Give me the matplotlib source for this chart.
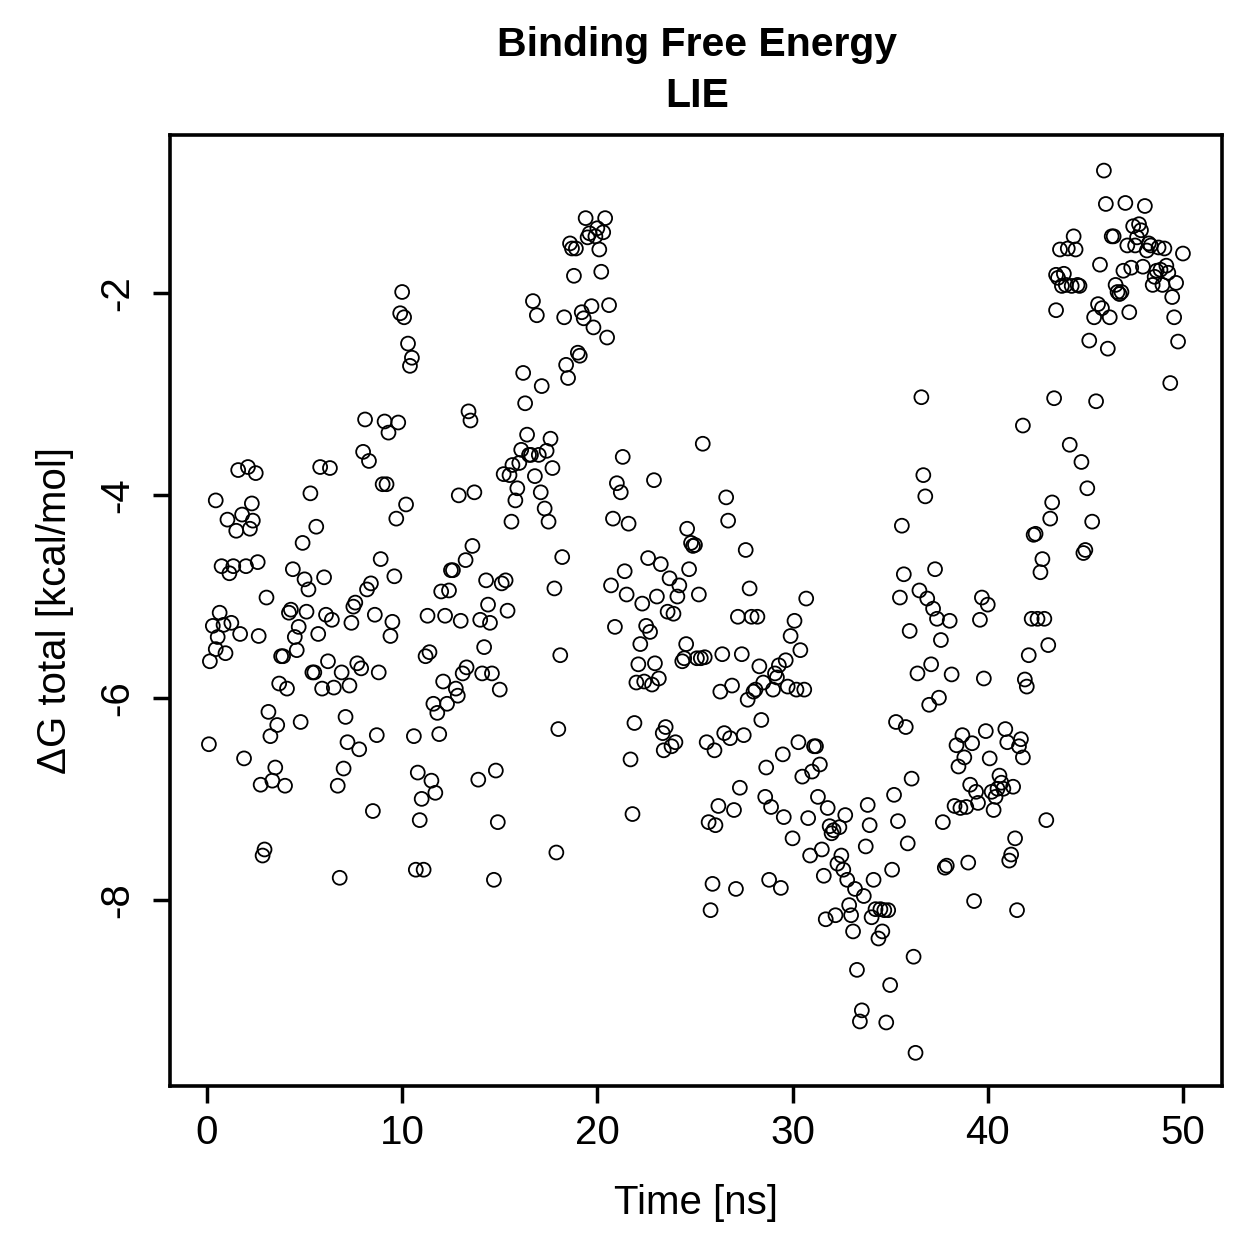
import matplotlib
matplotlib.use("Agg")
import matplotlib.pyplot as plt

time_ns = [0.1, 0.15, 0.3, 0.45, 0.45, 0.55, 0.65, 0.75, 0.85, 0.95, 1.05, 1.15, 1.25, 1.35, 1.5, 1.6, 1.7, 1.8, 1.9, 2.0,
           2.1, 2.2, 2.3, 2.35, 2.5, 2.6, 2.65, 2.75, 2.85, 2.95, 3.05, 3.15, 3.25, 3.35, 3.5, 3.6, 3.7, 3.8, 3.9, 4.0,
           4.1, 4.2, 4.3, 4.4, 4.5, 4.6, 4.7, 4.8, 4.9, 5.0, 5.1, 5.2, 5.3, 5.4, 5.5, 5.6, 5.7, 5.8, 5.9, 6.0,
           6.1, 6.2, 6.3, 6.4, 6.5, 6.7, 6.8, 6.9, 7.0, 7.1, 7.2, 7.3, 7.4, 7.5, 7.6, 7.7, 7.8, 7.9, 8.0, 8.1,
           8.2, 8.3, 8.4, 8.5, 8.6, 8.7, 8.8, 8.9, 9.0, 9.1, 9.2, 9.3, 9.4, 9.5, 9.6, 9.7, 9.8, 9.9, 10.0, 10.1,
           10.2, 10.3, 10.4, 10.5, 10.6, 10.7, 10.8, 10.9, 11.0, 11.1, 11.2, 11.3, 11.4, 11.5, 11.6, 11.7, 11.8, 11.9, 12.0, 12.1,
           12.2, 12.3, 12.4, 12.5, 12.6, 12.75, 12.85, 12.9, 13.0, 13.1, 13.25, 13.3, 13.4, 13.5, 13.6, 13.7, 13.9, 14.0, 14.1, 14.2,
           14.3, 14.4, 14.5, 14.6, 14.7, 14.8, 14.9, 15.0, 15.1, 15.3, 15.4, 15.2, 15.5, 15.6, 15.65, 15.8, 15.9, 16.0, 16.1, 16.2,
           16.3, 16.4, 16.5, 16.6, 16.7, 16.8, 16.9, 17.0, 17.1, 17.15, 17.3, 17.4, 17.5, 17.6, 17.7, 17.8, 17.9, 18.0, 18.1, 18.2,
           18.3, 18.4, 18.5, 18.6, 18.7, 18.8, 18.9, 19.0, 19.1, 19.2, 19.3, 19.4, 19.5, 19.6, 19.7, 19.8, 19.9, 20.0, 20.1, 20.2,
           20.3, 20.4, 20.5, 20.6, 20.7, 20.8, 20.9, 21.0, 21.2, 21.3, 21.4, 21.5, 21.6, 21.7, 21.8, 21.9, 22.0, 22.1, 22.2, 22.3,
           22.4, 22.5, 22.6, 22.7, 22.8, 22.9, 22.95, 23.05, 23.15, 23.25, 23.35, 23.4, 23.5, 23.6, 23.7, 23.8, 23.9, 24.0, 24.1, 24.2,
           24.35, 24.45, 24.55, 24.6, 24.7, 24.8, 24.9, 25.0, 25.1, 25.2, 25.3, 25.4, 25.5, 25.6, 25.7, 25.8, 25.9, 26.0, 26.05, 26.2,
           26.3, 26.4, 26.5, 26.6, 26.7, 26.8, 26.9, 27.0, 27.1, 27.2, 27.3, 27.4, 27.5, 27.6, 27.7, 27.8, 27.9, 28.0, 28.1, 28.2,
           28.3, 28.4, 28.5, 28.6, 28.65, 28.8, 28.9, 29.0, 29.1, 29.2, 29.3, 29.4, 29.5, 29.55, 29.65, 29.75, 29.9, 30.0, 30.1, 30.2,
           30.3, 30.4, 30.5, 30.6, 30.7, 30.8, 30.9, 31.0, 31.1, 31.2, 31.3, 31.4, 31.5, 31.6, 31.7, 31.8, 31.9, 32.0, 32.1, 32.2,
           32.3, 32.4, 32.5, 32.6, 32.7, 32.8, 32.9, 33.0, 33.1, 33.2, 33.3, 33.45, 33.55, 33.65, 33.75, 33.85, 33.95, 34.05, 34.15, 34.25,
           34.4, 34.5, 34.6, 34.7, 34.8, 34.9, 35.0, 35.1, 35.2, 35.3, 35.4, 35.5, 35.6, 35.7, 35.8, 35.9, 36.0, 36.1, 36.2, 36.3,
           36.4, 36.5, 36.6, 36.7, 36.8, 36.9, 37.0, 37.1, 37.2, 37.3, 37.4, 37.5, 37.6, 37.7, 37.8, 37.9, 38.05, 38.15, 38.3, 38.4,
           38.5, 38.6, 38.7, 38.8, 38.9, 39.0, 39.1, 39.2, 39.3, 39.4, 39.5, 39.6, 39.7, 39.8, 39.9, 40.0, 40.1, 40.2, 40.3, 40.4,
           40.5, 40.6, 40.7, 40.8, 40.9, 41.0, 41.1, 41.2, 41.3, 41.4, 41.5, 41.6, 41.7, 41.8, 41.8, 41.9, 42.0, 42.1, 42.25, 42.35,
           42.45, 42.55, 42.7, 42.8, 42.9, 43.0, 43.1, 43.2, 43.3, 43.4, 43.5, 43.5, 43.6, 43.7, 43.8, 43.9, 44.0, 44.1, 44.2, 44.3,
           44.4, 44.5, 44.6, 44.7, 44.8, 44.9, 45.0, 45.1, 45.2, 45.35, 45.45, 45.55, 45.65, 45.75, 45.85, 45.95, 46.05, 46.15, 46.25, 46.35,
           46.45, 46.55, 46.65, 46.75, 46.85, 46.95, 47.05, 47.15, 47.25, 47.35, 47.45, 47.55, 47.65, 47.75, 47.85, 47.95, 48.05, 48.15, 48.25, 48.35,
           48.45, 48.55, 48.65, 48.75, 48.85, 48.95, 49.05, 49.15, 49.25, 49.35, 49.45, 49.55, 49.65, 49.75, 50.0]

dg_total = [-6.46, -5.64, -5.29, -4.05, -5.52, -5.40, -5.16, -4.70, -5.28, -5.56, -4.24, -4.77, -5.26, -4.70, -4.35, -3.75, -5.37, -4.19, -6.60, -4.70,
            -3.72, -4.33, -4.08, -4.25, -3.78, -4.66, -5.39, -6.86, -7.56, -7.50, -5.01, -6.14, -6.38, -6.82, -6.69, -6.27, -5.86, -5.59, -5.59, -6.87,
            -5.91, -5.16, -5.13, -4.73, -5.40, -5.53, -5.30, -6.24, -4.47, -4.83, -5.15, -4.93, -3.98, -5.75, -5.75, -4.31, -5.37, -3.72, -5.91, -4.81,
            -5.18, -5.64, -3.73, -5.23, -5.90, -6.87, -7.78, -5.75, -6.70, -6.19, -6.44, -5.88, -5.26, -5.10, -5.06, -5.66, -6.51, -5.71, -3.57, -3.25,
            -4.93, -3.66, -4.87, -7.12, -5.18, -6.37, -5.75, -4.63, -3.89, -3.27, -3.89, -3.38, -5.39, -5.25, -4.80, -4.23, -3.28, -2.20, -1.99, -2.24,
            -4.09, -2.50, -2.72, -2.64, -6.38, -7.70, -6.74, -7.21, -7.00, -7.70, -5.59, -5.19, -5.55, -6.82, -6.06, -6.94, -6.15, -6.36, -4.95, -5.84,
            -5.19, -6.06, -4.94, -4.74, -4.74, -5.91, -5.98, -4.00, -5.24, -5.76, -4.64, -5.70, -3.17, -3.26, -4.50, -3.97, -6.81, -5.23, -5.76, -5.50,
            -4.84, -5.08, -5.26, -5.76, -7.80, -6.72, -7.23, -5.92, -4.87, -4.84, -5.14, -3.79, -3.80, -4.26, -3.70, -4.05, -3.93, -3.68, -3.55, -2.79,
            -3.09, -3.40, -3.60, -3.60, -2.08, -3.81, -2.22, -3.60, -3.97, -2.92, -4.13, -3.56, -4.26, -3.44, -3.73, -4.92, -7.53, -6.31, -5.58, -4.61,
            -2.24, -2.71, -2.84, -1.51, -1.56, -1.83, -1.56, -2.59, -2.62, -2.19, -2.25, -1.26, -1.45, -1.41, -2.13, -2.34, -1.44, -1.36, -1.57, -1.79,
            -1.40, -1.26, -2.44, -2.12, -4.89, -4.23, -5.30, -3.88, -3.97, -3.62, -4.75, -4.98, -4.28, -6.61, -7.15, -6.25, -5.85, -5.67, -5.47, -5.07,
            -5.84, -5.29, -4.62, -5.35, -5.87, -3.85, -5.66, -5.00, -5.81, -4.68, -6.35, -6.52, -6.29, -5.15, -4.82, -6.48, -5.17, -6.44, -5.00, -4.89,
            -5.64, -5.61, -5.47, -4.33, -4.73, -4.47, -4.50, -4.49, -5.61, -4.98, -5.61, -3.49, -5.60, -6.44, -7.23, -8.10, -7.84, -6.52, -7.26, -7.07,
            -5.94, -5.57, -6.35, -4.02, -4.25, -6.40, -5.88, -7.11, -7.89, -5.20, -6.89, -5.57, -6.37, -4.54, -6.02, -4.92, -5.20, -5.94, -5.92, -5.20,
            -5.69, -6.22, -5.85, -6.98, -6.69, -7.80, -7.08, -5.92, -5.76, -5.80, -5.68, -7.88, -6.56, -7.18, -5.63, -5.89, -5.39, -7.39, -5.24, -5.92,
            -6.44, -5.53, -6.78, -5.92, -5.02, -7.19, -7.56, -6.73, -6.48, -6.48, -6.98, -6.66, -7.50, -7.76, -8.19, -7.09, -7.27, -7.34, -7.31, -8.15,
            -7.64, -7.28, -7.56, -7.70, -7.16, -7.80, -8.05, -8.15, -8.31, -7.89, -8.69, -9.20, -9.09, -7.96, -7.47, -7.06, -7.26, -8.17, -7.80, -8.09,
            -8.38, -8.09, -8.31, -8.10, -9.21, -8.10, -8.84, -7.70, -6.96, -6.24, -7.22, -5.01, -4.30, -4.78, -6.29, -7.44, -5.34, -6.80, -8.56, -9.51,
            -5.76, -4.94, -3.03, -3.80, -4.01, -5.02, -6.07, -5.67, -5.12, -4.73, -5.22, -6.00, -5.43, -7.23, -7.68, -7.66, -5.24, -5.77, -7.07, -6.47,
            -6.68, -7.09, -6.37, -6.59, -7.08, -7.63, -6.86, -6.45, -8.01, -6.93, -7.04, -5.23, -5.01, -5.81, -6.33, -5.08, -6.60, -6.93, -7.11, -6.98,
            -6.90, -6.77, -6.84, -6.90, -6.31, -6.44, -7.61, -7.55, -6.88, -7.39, -8.10, -6.48, -6.41, -6.59, -3.31, -5.82, -5.89, -5.58, -5.22, -4.39,
            -4.38, -5.22, -4.76, -4.63, -5.22, -7.21, -5.48, -4.23, -4.07, -3.04, -2.17, -1.82, -1.85, -1.57, -1.93, -1.81, -1.92, -1.56, -3.50, -1.93,
            -1.44, -1.57, -1.92, -1.93, -3.67, -4.57, -4.54, -3.93, -2.47, -4.26, -2.24, -3.07, -2.11, -1.72, -2.15, -0.79, -1.12, -2.55, -2.24, -1.44,
            -1.44, -1.92, -1.99, -2.01, -1.99, -1.78, -1.11, -1.53, -2.19, -1.75, -1.34, -1.53, -1.45, -1.32, -1.38, -1.74, -1.14, -1.58, -1.51, -1.53,
            -1.92, -1.84, -1.78, -1.55, -1.77, -1.92, -1.56, -1.73, -1.80, -2.89, -2.04, -2.24, -1.90, -2.48, -1.61]

x_ticks = [0, 10, 20, 30, 40, 50]
y_ticks = [-2, -4, -6, -8]

plt.rcParams['font.family'] = ['Liberation Sans', 'DejaVu Sans']

fig = plt.figure(figsize=(12.59, 12.59), dpi=100)
ax = fig.add_axes([0.135, 0.1374, 0.8356, 0.7554])
ax.scatter(time_ns, dg_total, s=100, facecolors='none', edgecolors='black', linewidths=1.3)

ax.set_xlim(-1.895, 52.0)
ax.set_ylim(-9.838, -0.438)
ax.set_xticks(x_ticks)
ax.set_yticks(y_ticks)
ax.set_xticklabels([str(v) for v in x_ticks])
ax.set_yticklabels([str(v) for v in y_ticks], rotation=90, va='center')
ax.tick_params(axis='both', direction='out', length=12.5, width=2.5, labelsize=29)
ax.tick_params(axis='x', pad=8)
ax.tick_params(axis='y', pad=12)
for s in ax.spines.values():
    s.set_linewidth(2.6)

ax.set_xlabel('Time [ns]', fontsize=29, labelpad=23)
ax.set_ylabel('\u0394G total [kcal/mol]', fontsize=29, labelpad=17)
fig.text(0.5535, 0.964, 'Binding Free Energy', ha='center', va='center', fontsize=29.5, fontweight='bold')
fig.text(0.5535, 0.924, 'LIE', ha='center', va='center', fontsize=29.5, fontweight='bold')

fig.savefig('out.png', dpi=100)
